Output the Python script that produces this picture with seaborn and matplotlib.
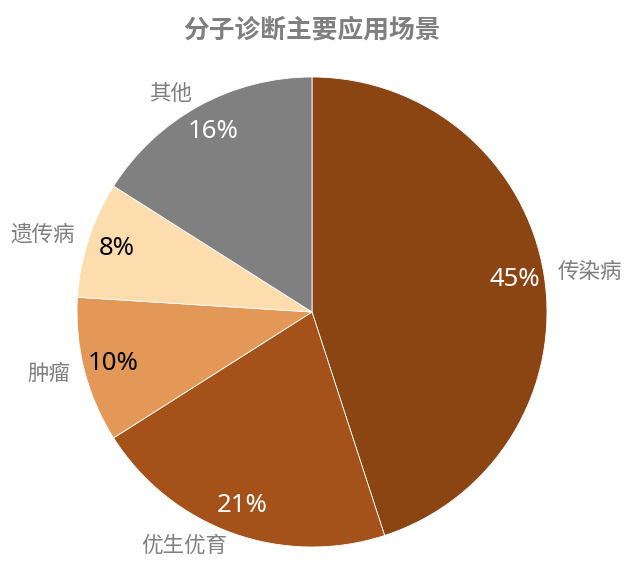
import numpy as np
import matplotlib
matplotlib.use("Agg")
import matplotlib.pyplot as plt
import seaborn as sns

# datos del grafico
categorias = ["传染病", "优生优育", "肿瘤", "遗传病", "其他"]
valores = [45, 21, 10, 8, 16]
colores = ["#8B4513", "#A5521A", "#E39858", "#FDDDAD", "#808080"]
color_pct = ["white", "white", "black", "black", "white"]
titulo = "分子诊断主要应用场景"

sns.set_theme(style="white")
plt.rcParams["font.family"] = ["Noto Sans CJK SC", "DejaVu Sans"]

fig = plt.figure(figsize=(6.32, 5.79), dpi=100)
ax = fig.add_axes([0, 0, 1, 1])

cx, cy, r = 312, 267, 235
wedges, textos, pcts = ax.pie(
    valores,
    colors=sns.color_palette(colores),
    startangle=90,
    counterclock=False,
    center=(cx, cy),
    radius=r,
    autopct="%d%%",
    pctdistance=0.875,
    labels=categorias,
    labeldistance=1.06,
    wedgeprops=dict(edgecolor="white", linewidth=0.6),
    frame=True,
)
ax.set_xlim(0, 632)
ax.set_ylim(0, 579)
ax.set_aspect("equal")
ax.axis("off")

# alinear etiquetas segun el lado del centro
for t in textos:
    x, y = t.get_position()
    t.set_horizontalalignment("left" if x > cx else "right")
    t.set_color("#7F7F7F")
    t.set_fontsize(15.5)
for p, c in zip(pcts, color_pct):
    p.set_color(c)
    p.set_fontsize(18.5)
    p.set_family(["Noto Sans", "DejaVu Sans"])

fig.text(312 / 632, 1 - 30 / 579, titulo, ha="center", va="center",
         fontsize=18.5, fontweight="bold", color="#7F7F7F")

fig.savefig("out.png", dpi=100)
